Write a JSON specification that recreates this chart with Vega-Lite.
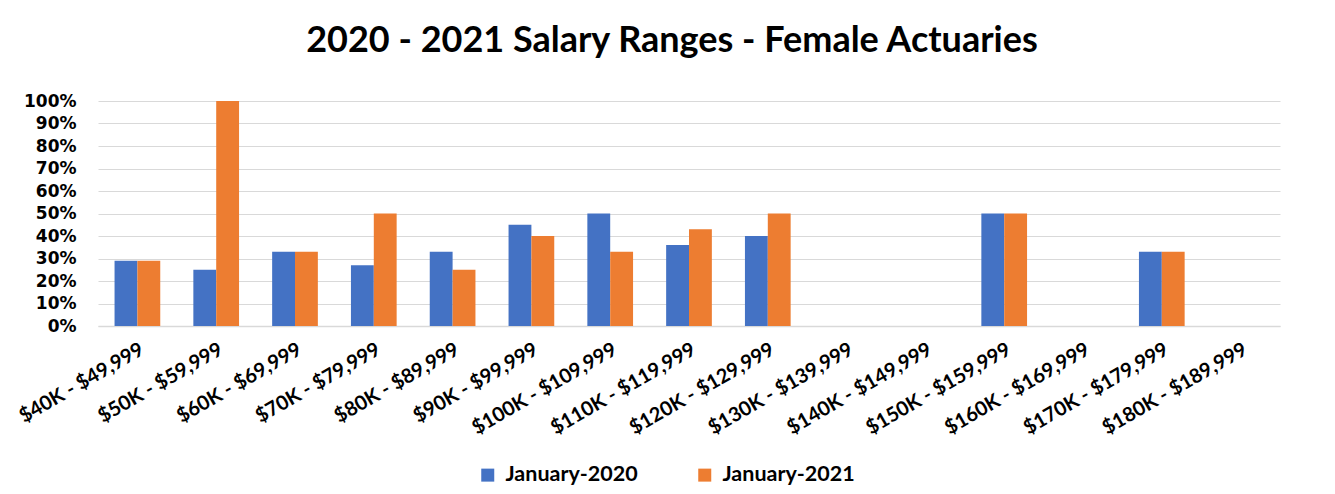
{
  "$schema": "https://vega.github.io/schema/vega-lite/v6.json",
  "width": 1182,
  "height": 225,
  "autosize": {"type": "none"},
  "padding": {"left": 98, "top": 101, "right": 55, "bottom": 168},
  "background": "white",
  "title": {
    "text": "2020 - 2021 Salary Ranges - Female Actuaries",
    "font": "Lato",
    "fontSize": 36,
    "fontWeight": "bold",
    "color": "#000000",
    "anchor": "middle",
    "frame": "group",
    "dx": -17,
    "offset": 32
  },
  "data": {
    "values": [
      {"range": "$40K - $49,999", "series": "January-2020", "value": 0.29},
      {"range": "$40K - $49,999", "series": "January-2021", "value": 0.29},
      {"range": "$50K - $59,999", "series": "January-2020", "value": 0.25},
      {"range": "$50K - $59,999", "series": "January-2021", "value": 1.0},
      {"range": "$60K - $69,999", "series": "January-2020", "value": 0.33},
      {"range": "$60K - $69,999", "series": "January-2021", "value": 0.33},
      {"range": "$70K - $79,999", "series": "January-2020", "value": 0.27},
      {"range": "$70K - $79,999", "series": "January-2021", "value": 0.5},
      {"range": "$80K - $89,999", "series": "January-2020", "value": 0.33},
      {"range": "$80K - $89,999", "series": "January-2021", "value": 0.25},
      {"range": "$90K - $99,999", "series": "January-2020", "value": 0.45},
      {"range": "$90K - $99,999", "series": "January-2021", "value": 0.4},
      {"range": "$100K - $109,999", "series": "January-2020", "value": 0.5},
      {"range": "$100K - $109,999", "series": "January-2021", "value": 0.33},
      {"range": "$110K - $119,999", "series": "January-2020", "value": 0.36},
      {"range": "$110K - $119,999", "series": "January-2021", "value": 0.43},
      {"range": "$120K - $129,999", "series": "January-2020", "value": 0.4},
      {"range": "$120K - $129,999", "series": "January-2021", "value": 0.5},
      {"range": "$150K - $159,999", "series": "January-2020", "value": 0.5},
      {"range": "$150K - $159,999", "series": "January-2021", "value": 0.5},
      {"range": "$170K - $179,999", "series": "January-2020", "value": 0.33},
      {"range": "$170K - $179,999", "series": "January-2021", "value": 0.33}
    ]
  },
  "mark": {"type": "bar"},
  "encoding": {
    "x": {
      "field": "range",
      "type": "nominal",
      "sort": null,
      "title": null,
      "scale": {
        "domain": ["$40K - $49,999", "$50K - $59,999", "$60K - $69,999", "$70K - $79,999", "$80K - $89,999", "$90K - $99,999", "$100K - $109,999", "$110K - $119,999", "$120K - $129,999", "$130K - $139,999", "$140K - $149,999", "$150K - $159,999", "$160K - $169,999", "$170K - $179,999", "$180K - $189,999"],
        "paddingInner": 0.42,
        "paddingOuter": 0.21
      },
      "axis": {
        "labelAngle": -30,
        "labelAlign": "right",
        "labelBaseline": "top",
        "labelFont": "Lato",
        "labelFontSize": 20,
        "labelFontWeight": "bold",
        "labelColor": "#000000",
        "labelPadding": 13,
        "labelOverlap": false,
        "ticks": false,
        "domainColor": "#d9d9d9",
        "domainWidth": 1.5
      }
    },
    "xOffset": {"field": "series", "type": "nominal", "scale": {"paddingInner": 0, "paddingOuter": 0}},
    "y": {
      "field": "value",
      "type": "quantitative",
      "title": null,
      "scale": {"domain": [0, 1]},
      "axis": {
        "format": ".0%",
        "values": [0, 0.1, 0.2, 0.3, 0.4, 0.5, 0.6, 0.7, 0.8, 0.9, 1.0],
        "labelOverlap": false,
        "labelFont": "DejaVu Sans",
        "labelFontSize": 17,
        "labelFontWeight": "bold",
        "labelColor": "#000000",
        "labelPadding": 22,
        "ticks": false,
        "domain": false,
        "grid": true,
        "gridColor": "#d9d9d9",
        "gridWidth": 1
      }
    },
    "color": {
      "field": "series",
      "type": "nominal",
      "scale": {"domain": ["January-2020", "January-2021"], "range": ["#4472C4", "#ED7D31"]},
      "legend": {
        "title": null,
        "orient": "none",
        "direction": "horizontal",
        "legendX": 379,
        "legendY": 363,
        "padding": 0,
        "symbolType": "square",
        "symbolSize": 169,
        "symbolStrokeWidth": 0,
        "labelFont": "Lato",
        "labelFontSize": 21.5,
        "labelFontWeight": "bold",
        "labelColor": "#000000",
        "columnPadding": 56,
        "labelOffset": 7
      }
    }
  },
  "config": {
    "view": {"stroke": null}
  }
}
